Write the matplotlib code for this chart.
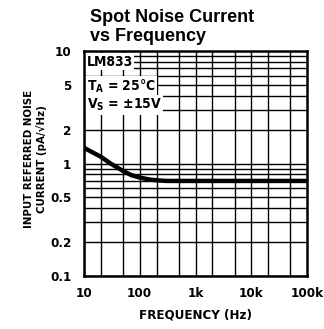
import matplotlib
matplotlib.use("Agg")
import matplotlib.pyplot as plt
from matplotlib.ticker import FixedLocator

freq = [10, 15, 20, 30, 50, 70, 100, 150, 200, 300, 500, 1000, 10000, 100000]
noise = [1.38, 1.24, 1.15, 1.0, 0.86, 0.79, 0.75, 0.72, 0.71, 0.70, 0.70, 0.70, 0.70, 0.70]

x_ticks = [10, 100, 1000, 10000, 100000]
x_labels = ["10", "100", "1k", "10k", "100k"]
y_ticks = [0.1, 0.2, 0.5, 1, 2, 5, 10]
y_labels = ["0.1", "0.2", "0.5", "1", "2", "5", "10"]

cond = ["DejaVu Sans"]

fig = plt.figure(figsize=(3.24, 3.29), dpi=100)
ax = fig.add_axes([0.259, 0.161, 0.689, 0.684])
ax.set_xscale("log")
ax.set_yscale("log")
ax.set_xlim(10, 100000)
ax.set_ylim(0.1, 10)

xg = [m * 10**e for e in range(1, 5) for m in (1, 2, 5)]
yg = [m * 10**e for e in (-1, 0) for m in range(1, 10)]
for v in xg:
    ax.axvline(v, color="black", lw=1.0, zorder=1)
for v in yg:
    ax.axhline(v, color="black", lw=1.0, zorder=1)

ax.plot(freq, noise, color="black", lw=3.2, solid_capstyle="butt", zorder=3)

ax.xaxis.set_major_locator(FixedLocator(x_ticks))
ax.xaxis.set_minor_locator(FixedLocator([]))
ax.set_xticklabels(x_labels)
ax.yaxis.set_major_locator(FixedLocator(y_ticks))
ax.yaxis.set_minor_locator(FixedLocator([]))
ax.set_yticklabels(y_labels)
ax.tick_params(axis="x", length=0, pad=8)
ax.tick_params(axis="y", length=0, pad=9)
for lab in ax.get_xticklabels() + ax.get_yticklabels():
    lab.set_family(cond)
    lab.set_fontweight("bold")
    lab.set_fontstretch("condensed")
    lab.set_fontsize(9.5)
for s in ax.spines.values():
    s.set_linewidth(1.8)
    s.set_zorder(5)

ax.set_xlabel("FREQUENCY (Hz)", family=cond, fontweight="bold", fontstretch="condensed",
              fontsize=9.5, labelpad=6)
ax.set_ylabel("INPUT REFERRED NOISE\nCURRENT (pA/\u221aHz)", family=cond, fontstretch="condensed",
              fontweight="bold", fontsize=8.2, linespacing=1.2)
ax.yaxis.set_label_coords(-0.166, 0.52)

box = dict(facecolor="white", edgecolor="none", pad=1.0)
ax.text(0.012, 0.952, "LM833", transform=ax.transAxes, family=cond, fontweight="bold",
        fontstretch="condensed", fontsize=10, va="center", ha="left", bbox=box, zorder=4)
ax.text(0.012, 0.842, "T$_\\mathregular{A}$ = 25\u00b0C", transform=ax.transAxes, family=cond,
        fontstretch="condensed", fontweight="bold", fontsize=10, va="center", ha="left", bbox=box, zorder=4)
ax.text(0.012, 0.76, "V$_\\mathregular{S}$ = \u00b115V", transform=ax.transAxes, family=cond,
        fontstretch="condensed", fontweight="bold", fontsize=10, va="center", ha="left", bbox=box, zorder=4)

fig.text(0.278, 0.948, "Spot Noise Current", family=["Liberation Sans", "DejaVu Sans"],
         fontweight="bold", fontsize=13, va="center", ha="left")
fig.text(0.278, 0.89, "vs Frequency", family=["Liberation Sans", "DejaVu Sans"],
         fontweight="bold", fontsize=13, va="center", ha="left")

fig.savefig("out.png", dpi=100)
